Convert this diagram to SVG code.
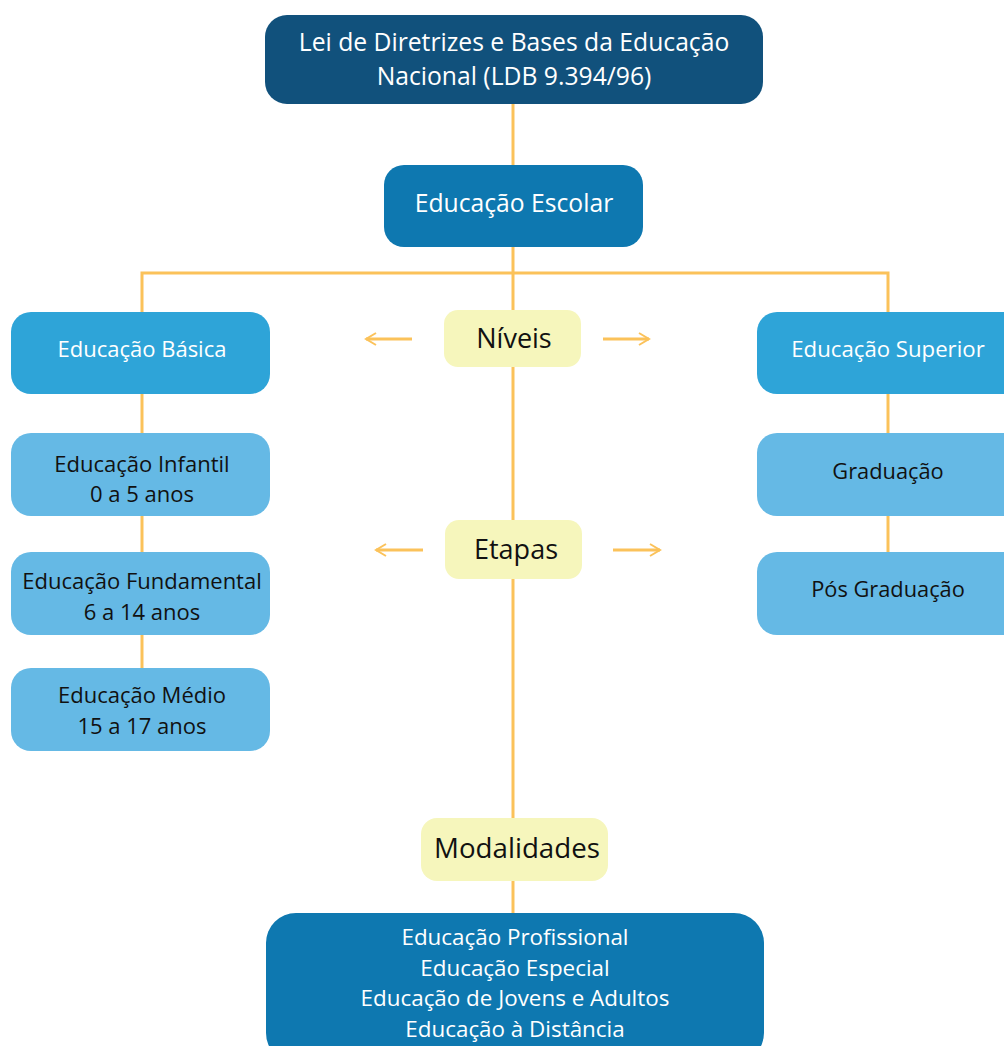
<svg xmlns="http://www.w3.org/2000/svg" width="1004" height="1046" viewBox="0 0 1004 1046">
<defs>
<marker id="ah" markerWidth="14" markerHeight="14" refX="12" refY="7" orient="auto" markerUnits="userSpaceOnUse">
<path d="M2,1 L12,7 L2,13" fill="none" stroke="#FBC25A" stroke-width="2"/>
</marker>
</defs>
<style>
.ln{stroke:#FBC25A;stroke-width:3;fill:none}
.ar{stroke:#FBC25A;stroke-width:3;fill:none}
.t{font-family:"Open Sans","Liberation Sans",sans-serif;text-anchor:middle;dominant-baseline:central}
.w{fill:#FFFFFF}
.k{fill:#111111}
</style>
<rect width="1004" height="1046" fill="#FFFFFF"/>
<g id="connectors">
<line class="ln" x1="513" y1="104" x2="513" y2="166"/>
<line class="ln" x1="513" y1="247" x2="513" y2="820"/>
<polyline class="ln" points="142,312 142,273 888,273 888,312"/>
<line class="ln" x1="142" y1="394" x2="142" y2="434"/>
<line class="ln" x1="142" y1="516" x2="142" y2="553"/>
<line class="ln" x1="142" y1="635" x2="142" y2="669"/>
<line class="ln" x1="888" y1="394" x2="888" y2="434"/>
<line class="ln" x1="888" y1="516" x2="888" y2="553"/>
<line class="ln" x1="513" y1="880" x2="513" y2="914"/>
<line class="ar" x1="412" y1="339" x2="366" y2="339" marker-end="url(#ah)"/>
<line class="ar" x1="603" y1="339" x2="649" y2="339" marker-end="url(#ah)"/>
<line class="ar" x1="423" y1="550" x2="376" y2="550" marker-end="url(#ah)"/>
<line class="ar" x1="613" y1="550" x2="660" y2="550" marker-end="url(#ah)"/>
</g>
<g id="ldb">
<rect x="265" y="15" width="498" height="89" rx="22" fill="#11517C"/>
<text class="t w" x="514" y="41" font-size="24.7">Lei de Diretrizes e Bases da Educação</text>
<text class="t w" x="514" y="75" font-size="24.7">Nacional (LDB 9.394/96)</text>
</g>
<g id="escolar">
<rect x="384" y="165" width="259" height="82" rx="20" fill="#0E78B0"/>
<text class="t w" x="514" y="202" font-size="24.7">Educação Escolar</text>
</g>
<g id="basica">
<rect x="11" y="312" width="259" height="82" rx="20" fill="#2EA4D8"/>
<text class="t w" x="142" y="348" font-size="22">Educação Básica</text>
</g>
<g id="superior">
<rect x="757" y="312" width="267" height="82" rx="20" fill="#2EA4D8"/>
<text class="t w" x="888" y="348" font-size="22.2">Educação Superior</text>
</g>
<g id="niveis">
<rect x="444" y="310" width="137" height="57" rx="14" fill="#F6F6BC"/>
<text class="t k" x="514" y="337" font-size="27">Níveis</text>
</g>
<g id="etapas">
<rect x="445" y="520" width="137" height="59" rx="14" fill="#F6F6BC"/>
<text class="t k" x="516" y="548" font-size="27">Etapas</text>
</g>
<g id="infantil">
<rect x="11" y="433" width="259" height="83" rx="20" fill="#65B9E5"/>
<text class="t k" x="142" y="463" font-size="22">Educação Infantil</text>
<text class="t k" x="142" y="493" font-size="22">0 a 5 anos</text>
</g>
<g id="fundamental">
<rect x="11" y="552" width="259" height="83" rx="20" fill="#65B9E5"/>
<text class="t k" x="142" y="580" font-size="22">Educação Fundamental</text>
<text class="t k" x="142" y="611" font-size="22">6 a 14 anos</text>
</g>
<g id="medio">
<rect x="11" y="668" width="259" height="83" rx="20" fill="#65B9E5"/>
<text class="t k" x="142" y="694" font-size="22">Educação Médio</text>
<text class="t k" x="142" y="725" font-size="22">15 a 17 anos</text>
</g>
<g id="graduacao">
<rect x="757" y="433" width="267" height="83" rx="20" fill="#65B9E5"/>
<text class="t k" x="888" y="470" font-size="21.8">Graduação</text>
</g>
<g id="posgraduacao">
<rect x="757" y="552" width="267" height="83" rx="20" fill="#65B9E5"/>
<text class="t k" x="888" y="588" font-size="21.8">Pós Graduação</text>
</g>
<g id="modalidades">
<rect x="421" y="818" width="187" height="63" rx="16" fill="#F6F6BC"/>
<text class="t k" x="517" y="847" font-size="27.7">Modalidades</text>
</g>
<g id="lista">
<rect x="266" y="913" width="498" height="150" rx="30" fill="#0E78B0"/>
<text class="t w" x="515" y="936" font-size="22.4">Educação Profissional</text>
<text class="t w" x="515" y="967" font-size="22.4">Educação Especial</text>
<text class="t w" x="515" y="997" font-size="22.4">Educação de Jovens e Adultos</text>
<text class="t w" x="515" y="1028" font-size="22.4">Educação à Distância</text>
</g>
</svg>
